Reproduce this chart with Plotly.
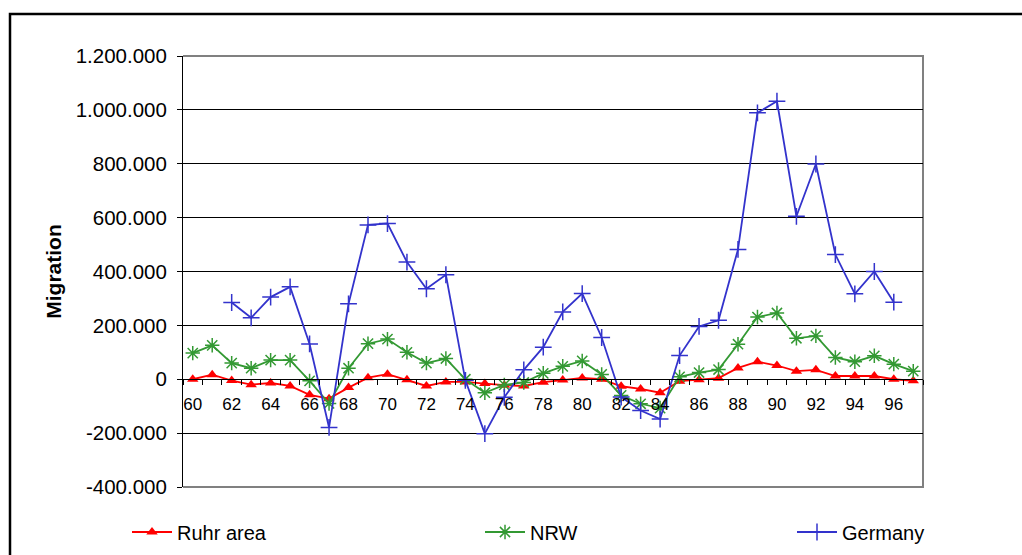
import plotly.graph_objects as go

# Net migration by year (19xx), persons
years = list(range(60, 98))
ruhr = [0, 17000, -5000, -20000, -14000, -25000, -58000, -72000, -31000, 6000,
        19000, -2000, -25000, -10000, -10000, -16000, -22000, -25000, -11000, -3000,
        5000, 0, -26000, -36000, -50000, -7000, -2000, 4000, 42000, 65000,
        51000, 30000, 35000, 12000, 12000, 12000, 0, -6000]
nrw = [97000, 126000, 60000, 41000, 71000, 71000, -6000, -90000, 41000, 132000,
       149000, 100000, 60000, 77000, 0, -50000, -21000, -12000, 22000, 48000,
       68000, 18000, -60000, -91000, -107000, 9000, 25000, 36000, 130000, 231000,
       246000, 152000, 161000, 81000, 65000, 87000, 56000, 30000]
germany = [None, None, 285000, 228000, 305000, 343000, 131000, -179000, 280000, 573000,
           578000, 435000, 336000, 388000, -4000, -202000, -67000, 35000, 119000, 250000,
           318000, 155000, -66000, -116000, -148000, 88000, 196000, 219000, 482000, 989000,
           1032000, 605000, 799000, 463000, 317000, 400000, 286000, None]

tick_years = list(range(60, 97, 2))
tick_labels = [str(y) for y in tick_years]
y_ticks = list(range(-400000, 1200001, 200000))
# German-style thousands separator with a plain hyphen for negatives
y_labels = [f"{v:,}".replace(",", ".") for v in y_ticks]

FONT = "Liberation Sans, Arial, sans-serif"

fig = go.Figure()
fig.add_trace(go.Scatter(
    x=years, y=ruhr, name="Ruhr area", mode="lines+markers",
    line=dict(color="#FF0000", width=1.8),
    marker=dict(symbol="triangle-up", size=10, color="#FF0000"),
    legend="legend",
))
fig.add_trace(go.Scatter(
    x=years, y=nrw, name="NRW", mode="lines+markers",
    line=dict(color="#339933", width=1.8),
    marker=dict(symbol="asterisk-open", size=12, color="#339933",
                line=dict(color="#339933", width=1.5)),
    legend="legend2",
))
fig.add_trace(go.Scatter(
    x=years, y=germany, name="Germany", mode="lines+markers",
    line=dict(color="#3333CC", width=1.8),
    marker=dict(symbol="cross-thin-open", size=12, color="#3333CC",
                line=dict(color="#3333CC", width=1.5)),
    connectgaps=False,
    legend="legend3",
))

legend_common = dict(orientation="h", xref="container", yref="container",
                     yanchor="middle", y=1 - 532 / 555, xanchor="left",
                     font=dict(family=FONT, size=20, color="black"),
                     bgcolor="rgba(0,0,0,0)", itemwidth=40, tracegroupgap=0)

fig.update_layout(
    width=1022, height=555,
    margin=dict(l=183, r=99, t=56, b=68, autoexpand=False),
    paper_bgcolor="white", plot_bgcolor="white",
    font=dict(family=FONT, color="black"),
    showlegend=True,
    legend=dict(x=127 / 1022, **legend_common),
    legend2=dict(x=480 / 1022, **legend_common),
    legend3=dict(x=792 / 1022, **legend_common),
    xaxis=dict(
        range=[59.5, 97.5], tickmode="array", tickvals=tick_years, ticktext=tick_labels,
        anchor="free", position=0.25, showgrid=False, zeroline=False,
        showline=True, linecolor="black", linewidth=1,
        ticks="", ticklabelstandoff=9,
        tickfont=dict(family=FONT, size=17, color="black"),
        minor=dict(tickmode="linear", tick0=59.5, dtick=1, ticks="outside",
                   ticklen=5, tickcolor="black", tickwidth=1, showgrid=False),
    ),
    yaxis=dict(
        range=[-400000, 1200000], tickmode="array", tickvals=y_ticks, ticktext=y_labels,
        showgrid=True, gridcolor="black", gridwidth=1,
        zeroline=False, showline=True, linecolor="black", linewidth=1,
        ticks="outside", ticklen=5, tickcolor="black", ticklabelstandoff=6,
        tickfont=dict(family=FONT, size=20.5, color="black"),
        title=dict(text="<b>Migration</b>", standoff=8,
                   font=dict(family=FONT, size=21, color="black")),
    ),
    shapes=[
        # gray plot-area frame (top, right, bottom)
        dict(type="path", xref="paper", yref="paper",
             path="M 0,1 L 1,1 L 1,0 L 0,0", line=dict(color="#808080", width=2),
             layer="between"),
        # chart border
        dict(type="rect", xref="paper", yref="paper",
             x0=(10 - 183) / 740, x1=(1040 - 183) / 740,
             y0=(487 - 580) / 431, y1=(487 - 14) / 431,
             line=dict(color="black", width=2.5), layer="below"),
    ],
)

fig.write_html("out.html")
